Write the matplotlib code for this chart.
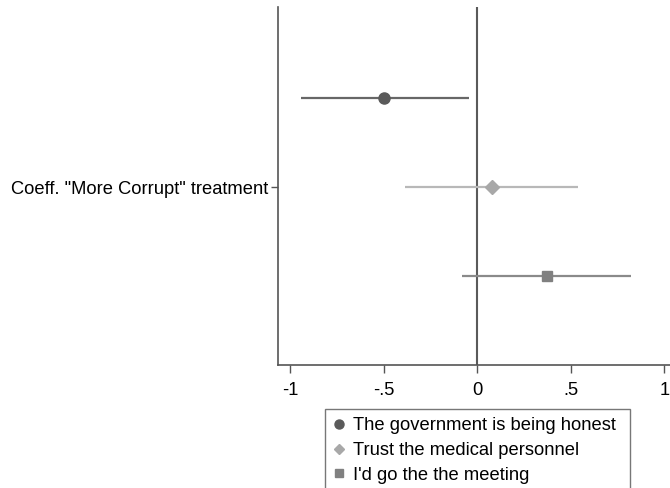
import matplotlib
matplotlib.use("Agg")
import matplotlib.pyplot as plt
from matplotlib.lines import Line2D

plt.rcParams["font.family"] = ["Liberation Sans", "DejaVu Sans"]

# ── data ─────────────────────────────────────────────────────────────────────
series = ["The government is being honest",
          "Trust the medical personnel",
          "I'd go the the meeting"]
coef = [-0.497, 0.077, 0.371]
ci_low = [-0.944, -0.385, -0.080]
ci_high = [-0.044, 0.537, 0.820]
offsets = [1, 0, -1]                      # vertical slot within the coefficient row
ytick_label = 'Coeff. "More Corrupt" treatment'
xticks = [-1, -0.5, 0, 0.5, 1]
xtick_labels = ["-1", "-.5", "0", ".5", "1"]

# ── styles ───────────────────────────────────────────────────────────────────
markers = ["o", "D", "s"]
msizes = [8, 7, 7.5]
mcolors = ["#5a5a5a", "#a8a8a8", "#808080"]
lcolors = ["#676767", "#b8b8b8", "#8a8a8a"]
FS = 13.2

fig = plt.figure(figsize=(6.7, 4.88), dpi=100)
ax = fig.add_axes([278 / 670, 1 - 365 / 488, 1 - 278 / 670, (365 - 7) / 488])

ax.axvline(0, color="#5a5a5a", lw=1.5, zorder=1)
for i in range(len(series)):
    ax.plot([ci_low[i], ci_high[i]], [offsets[i], offsets[i]],
            color=lcolors[i], lw=1.6, zorder=2, solid_capstyle="butt")
    ax.plot(coef[i], offsets[i], marker=markers[i], ms=msizes[i],
            color=mcolors[i], mec=mcolors[i], ls="none", zorder=3)

ax.set_xlim(-1.066, 1.031)
ax.set_ylim(-2.0, 2.03)
ax.set_xticks(xticks)
ax.set_xticklabels(xtick_labels, fontsize=FS)
ax.set_yticks([0])
ax.set_yticklabels([ytick_label], fontsize=FS)
ax.tick_params(axis="x", length=6, width=1, color="#555555", pad=6)
ax.tick_params(axis="y", length=5, width=1, color="#555555", pad=2)

for side in ["top", "right"]:
    ax.spines[side].set_visible(False)
for side in ["left", "bottom"]:
    ax.spines[side].set_color("#555555")
    ax.spines[side].set_linewidth(1.2)

handles = [Line2D([], [], marker=markers[i], ls="none", ms=msizes[i] - 1.5,
                  color=mcolors[i]) for i in range(len(series))]
leg = fig.legend(handles, [s + " " for s in series], loc="upper left",
                 bbox_to_anchor=(325 / 670, 1 - 409 / 488),
                 fontsize=FS, frameon=True, fancybox=False,
                 handlelength=0.6, handletextpad=0.5, labelspacing=0.42,
                 borderpad=0.45, borderaxespad=0)
leg.get_frame().set_edgecolor("#555555")
leg.get_frame().set_linewidth(1.0)

fig.savefig("out.png", dpi=100)
